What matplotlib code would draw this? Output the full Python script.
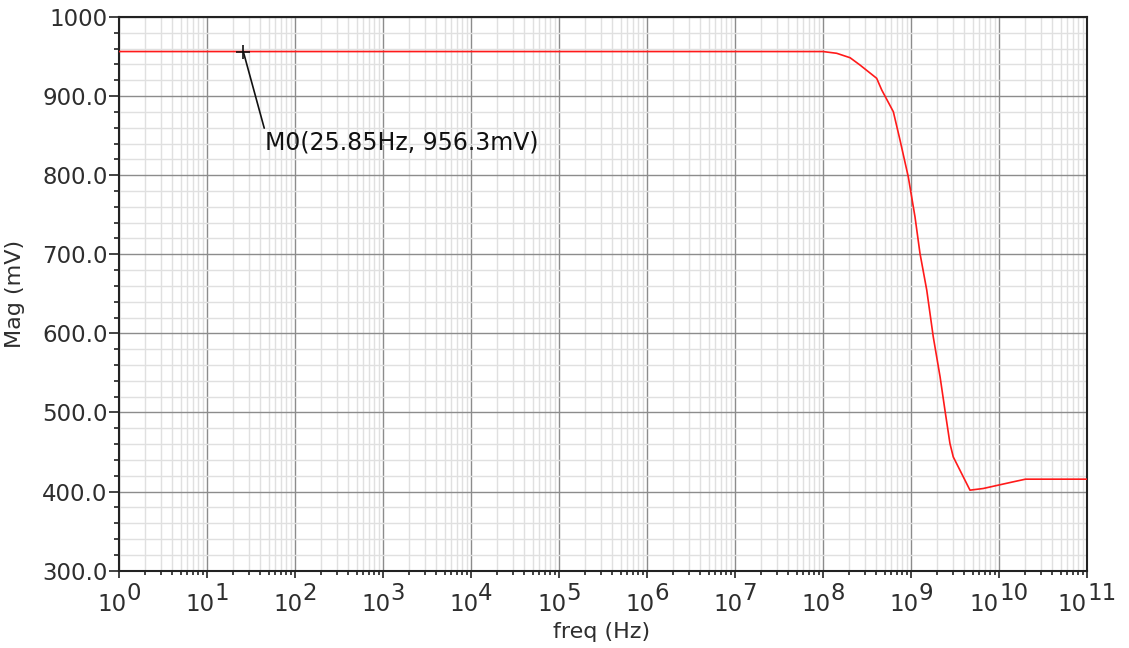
import matplotlib
matplotlib.use("Agg")
import matplotlib.pyplot as plt
from matplotlib import transforms
from matplotlib.ticker import LogLocator, MultipleLocator, FuncFormatter, NullFormatter

# AC sweep: output magnitude vs. frequency
freq_hz = [1, 10, 100, 1e3, 1e4, 1e5, 1e6, 1e7, 1e8,
           1.43e8, 2.03e8, 2.63e8, 4.07e8, 4.65e8, 6.30e8, 7.50e8, 9.31e8,
           1.11e9, 1.265e9, 1.51e9, 1.79e9, 2.14e9, 2.43e9, 2.77e9, 3.02e9,
           4.68e9, 6.61e9, 9.77e9, 1.445e10, 2.0e10, 1e11]
mag_mv = [956.3, 956.3, 956.3, 956.3, 956.3, 956.3, 956.3, 956.3, 956.3,
          954.1, 948.5, 939.3, 922.5, 907.7, 880.2, 844.4, 798.0,
          747.4, 701.1, 654.7, 595.7, 545.1, 503.0, 460.9, 443.9,
          401.8, 403.9, 408.1, 412.3, 415.7, 415.7]

marker_name = "M0"
marker_freq = 25.85
marker_mag = 956.3
marker_text_pos = (45.6, 856.0)

decades = list(range(0, 12))

text_color = "#2e2e2e"
tick_fs = 16.5

fig = plt.figure(figsize=(11.29, 6.48), dpi=100)
ax = fig.add_axes([0.1054, 0.1193, 0.8574, 0.8545])

ax.set_xscale("log")
ax.set_xlim(1, 1e11)
ax.set_ylim(300, 1000)

ax.xaxis.set_major_locator(LogLocator(base=10, numticks=30))
ax.xaxis.set_minor_locator(LogLocator(base=10, subs=range(2, 10), numticks=200))
ax.xaxis.set_minor_formatter(NullFormatter())
ax.yaxis.set_major_locator(MultipleLocator(100))
ax.yaxis.set_minor_locator(MultipleLocator(20))
ax.yaxis.set_major_formatter(FuncFormatter(lambda v, p: "1000" if v >= 1000 else f"{v:.1f}"))

ax.grid(which="minor", color="#e0e0e0", linewidth=1.0)
ax.grid(which="major", color="#8c8c8c", linewidth=1.0)
ax.set_axisbelow(True)

for s in ax.spines.values():
    s.set_color("#222222")
    s.set_linewidth(1.5)

ax.tick_params(axis="y", which="major", direction="out", length=7.2, width=1.2,
               color="#222222", labelsize=tick_fs, labelcolor=text_color, pad=1)
ax.tick_params(axis="y", which="minor", direction="out", length=3.6, width=1.2,
               color="#222222")
ax.tick_params(axis="x", which="major", direction="out", length=5, width=1.2,
               color="#222222", labelbottom=False)
ax.tick_params(axis="x", which="minor", direction="out", length=3, width=1.2,
               color="#222222")

# decade labels written as "10" with a full-size raised exponent
digit_w = 0.636 * tick_fs
xtrans = ax.get_xaxis_transform()
for e in decades:
    n = len(str(e))
    dx = (2 - n) / 2 * digit_w
    t_base = transforms.offset_copy(xtrans, fig=fig, x=dx, y=-15.8, units="points")
    t_exp = transforms.offset_copy(xtrans, fig=fig, x=dx, y=-8.4, units="points")
    ax.text(10.0 ** e, 0, "10", transform=t_base, ha="right", va="top",
            fontsize=tick_fs, color=text_color)
    ax.text(10.0 ** e, 0, str(e), transform=t_exp, ha="left", va="top",
            fontsize=tick_fs, color=text_color)

ax.plot(freq_hz, mag_mv, color="#ff1a1a", linewidth=1.2, zorder=3)

ax.plot([marker_freq], [marker_mag], marker="+", markersize=10, markeredgewidth=1.2,
        color="#111111", zorder=4)
ax.annotate(f"{marker_name}({marker_freq}Hz, {marker_mag}mV)",
            xy=(marker_freq, marker_mag), xytext=marker_text_pos,
            textcoords="data", ha="left", va="top", fontsize=17, color="#111111",
            arrowprops=dict(arrowstyle="-", color="#111111", lw=1.2,
                            shrinkA=0, shrinkB=0, relpos=(0, 1)),
            zorder=5)

ax.set_xlabel("freq (Hz)", fontsize=16, color=text_color)
ax.xaxis.set_label_coords(0.498, -0.093)
ax.xaxis.label.set_va("top")
ax.set_ylabel("Mag (mV)", fontsize=16, color=text_color)
ax.yaxis.set_label_coords(-0.097, 0.5)

fig.savefig("out.png", dpi=100)
